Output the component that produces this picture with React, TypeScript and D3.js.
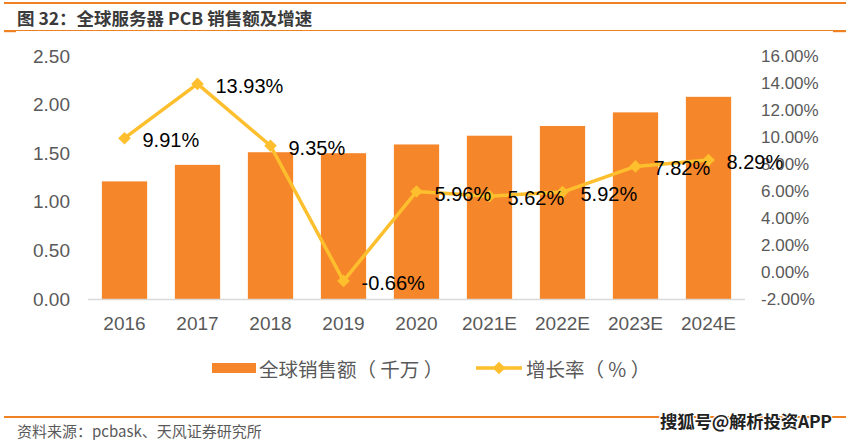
import * as d3 from "d3";
import { useEffect, useRef } from "react";

const W = 851;
const H = 440;
const PLOT = { left: 88, right: 745, top: 56, bottom: 299 };

const CATEGORIES = ["2016", "2017", "2018", "2019", "2020", "2021E", "2022E", "2023E", "2024E"];
const SALES = [1.21, 1.38, 1.51, 1.5, 1.59, 1.68, 1.78, 1.92, 2.08]; // 全球销售额（千万）
const GROWTH = [9.91, 13.93, 9.35, -0.66, 5.96, 5.62, 5.92, 7.82, 8.29]; // 增长率（%）
const LEFT_TICKS = [0, 0.5, 1, 1.5, 2, 2.5];
const RIGHT_TICKS = [-2, 0, 2, 4, 6, 8, 10, 12, 14, 16];

const ORANGE = "#F5862A";
const YELLOW = "#FDBF2D";
const LINE_ORANGE = "#F08122";
const GREY_TEXT = "#595959";
const LATIN = "'Liberation Sans', Arial, sans-serif";
const CJK = "'Noto Sans CJK SC', 'Noto Sans', sans-serif";

const App = () => {
  const svgRef = useRef<SVGSVGElement>(null);

  useEffect(() => {
    if (!svgRef.current) return;
    const svg = d3.select(svgRef.current);
    svg.selectAll("*").remove();

    // header rules + title
    svg.append("line").attr("x1", 4).attr("x2", 846).attr("y1", 3).attr("y2", 3)
      .attr("stroke", LINE_ORANGE).attr("stroke-width", 2);
    svg.append("line").attr("x1", 4).attr("x2", 846).attr("y1", 30.5).attr("y2", 30.5)
      .attr("stroke", LINE_ORANGE).attr("stroke-width", 1.2);
    svg.append("rect").attr("x", 4).attr("y", 30).attr("width", 12).attr("height", 2.2).attr("fill", LINE_ORANGE);
    svg.append("rect").attr("x", 833).attr("y", 30).attr("width", 13).attr("height", 2.2).attr("fill", LINE_ORANGE);
    svg.append("text").attr("x", 17).attr("y", 17).attr("dominant-baseline", "central")
      .attr("font-family", CJK).attr("font-weight", "bold").attr("font-size", 17.5).attr("fill", "#3a3a3a")
      .text("图 32：全球服务器 PCB 销售额及增速");

    const x = d3.scaleBand<string>().domain(CATEGORIES)
      .range([PLOT.left, PLOT.right]).paddingInner(0.38).paddingOuter(0.19);
    const yL = d3.scaleLinear().domain([0, 2.5]).range([PLOT.bottom, PLOT.top]);
    const yR = d3.scaleLinear().domain([-2, 16]).range([PLOT.bottom, PLOT.top]);

    // bars
    svg.append("g").selectAll("rect").data(SALES).join("rect")
      .attr("x", (_, i) => x(CATEGORIES[i])!)
      .attr("width", x.bandwidth())
      .attr("y", (d) => yL(d))
      .attr("height", (d) => yL(0) - yL(d))
      .attr("fill", ORANGE);

    // baseline
    svg.append("line").attr("x1", PLOT.left).attr("x2", PLOT.right)
      .attr("y1", PLOT.bottom + 0.5).attr("y2", PLOT.bottom + 0.5)
      .attr("stroke", "#d9d9d9").attr("stroke-width", 1.5);

    // left axis
    const axisL = d3.axisLeft(yL).tickValues(LEFT_TICKS).tickFormat(d3.format(".2f")).tickSize(0).tickPadding(0);
    const gL = svg.append("g").attr("transform", "translate(70,0)").call(axisL);
    gL.select(".domain").remove();
    gL.selectAll("text").attr("font-family", LATIN).attr("font-size", 19).attr("fill", GREY_TEXT);

    // right axis
    const axisR = d3.axisRight(yR).tickValues(RIGHT_TICKS)
      .tickFormat((d) => `${(+d).toFixed(2)}%`).tickSize(0).tickPadding(0);
    const gR = svg.append("g").attr("transform", "translate(761,0)").call(axisR);
    gR.select(".domain").remove();
    gR.selectAll("text").attr("font-family", LATIN).attr("font-size", 17).attr("fill", GREY_TEXT);

    // x axis
    const axisX = d3.axisBottom(x).tickSize(0).tickPadding(0);
    const gX = svg.append("g").attr("transform", `translate(0,${PLOT.bottom + 17})`).call(axisX);
    gX.select(".domain").remove();
    gX.selectAll("text").attr("font-family", LATIN).attr("font-size", 19).attr("fill", GREY_TEXT);

    // growth line
    const cx = (i: number) => x(CATEGORIES[i])! + x.bandwidth() / 2;
    const line = d3.line<number>().x((_, i) => cx(i)).y((d) => yR(d));
    svg.append("path").datum(GROWTH).attr("d", line).attr("fill", "none")
      .attr("stroke", YELLOW).attr("stroke-width", 3.5).attr("stroke-linejoin", "round");

    const diamond = d3.symbol().type(d3.symbolSquare).size(80);
    svg.append("g").selectAll("path").data(GROWTH).join("path")
      .attr("d", diamond)
      .attr("transform", (d, i) => `translate(${cx(i)},${yR(d)}) rotate(45)`)
      .attr("fill", YELLOW);

    svg.append("g").selectAll("text").data(GROWTH).join("text")
      .attr("x", (_, i) => cx(i) + 18)
      .attr("y", (d) => yR(d) + 2)
      .attr("dominant-baseline", "central")
      .attr("font-family", LATIN).attr("font-size", 20).attr("fill", "#000")
      .text((d) => `${d.toFixed(2)}%`);

    // legend
    const leg = svg.append("g");
    leg.append("rect").attr("x", 212).attr("y", 363).attr("width", 44).attr("height", 10).attr("fill", ORANGE);
    leg.append("text").attr("x", 259).attr("y", 368).attr("dominant-baseline", "central")
      .attr("font-family", CJK).attr("font-size", 19.5).attr("fill", GREY_TEXT).text("全球销售额（ 千万 ）");
    leg.append("line").attr("x1", 476).attr("x2", 522).attr("y1", 368).attr("y2", 368)
      .attr("stroke", YELLOW).attr("stroke-width", 3.5);
    leg.append("path").attr("d", diamond).attr("transform", "translate(499,368) rotate(45)").attr("fill", YELLOW);
    leg.append("text").attr("x", 526).attr("y", 368).attr("dominant-baseline", "central")
      .attr("font-family", CJK).attr("font-size", 19.5).attr("fill", GREY_TEXT).text("增长率（ % ）");

    // footer
    svg.append("line").attr("x1", 4).attr("x2", 846).attr("y1", 417).attr("y2", 417)
      .attr("stroke", LINE_ORANGE).attr("stroke-width", 2);
    svg.append("text").attr("x", 17).attr("y", 430).attr("dominant-baseline", "central")
      .attr("font-family", CJK).attr("font-size", 15).attr("fill", GREY_TEXT)
      .text("资料来源：pcbask、天风证券研究所");
    svg.append("text").attr("x", 660).attr("y", 420).attr("dominant-baseline", "central")
      .attr("font-family", CJK).attr("font-weight", "bold").attr("font-size", 17.5)
      .attr("fill", "#222").attr("stroke", "#fff").attr("stroke-width", 2.5)
      .attr("paint-order", "stroke").attr("textLength", 172)
      .text("搜狐号@解析投资APP");
  }, []);

  return (
    <svg
      ref={svgRef}
      width={W}
      height={H}
      style={{ position: "absolute", left: 0, top: 0, background: "#fff" }}
    />
  );
};

export default App;
